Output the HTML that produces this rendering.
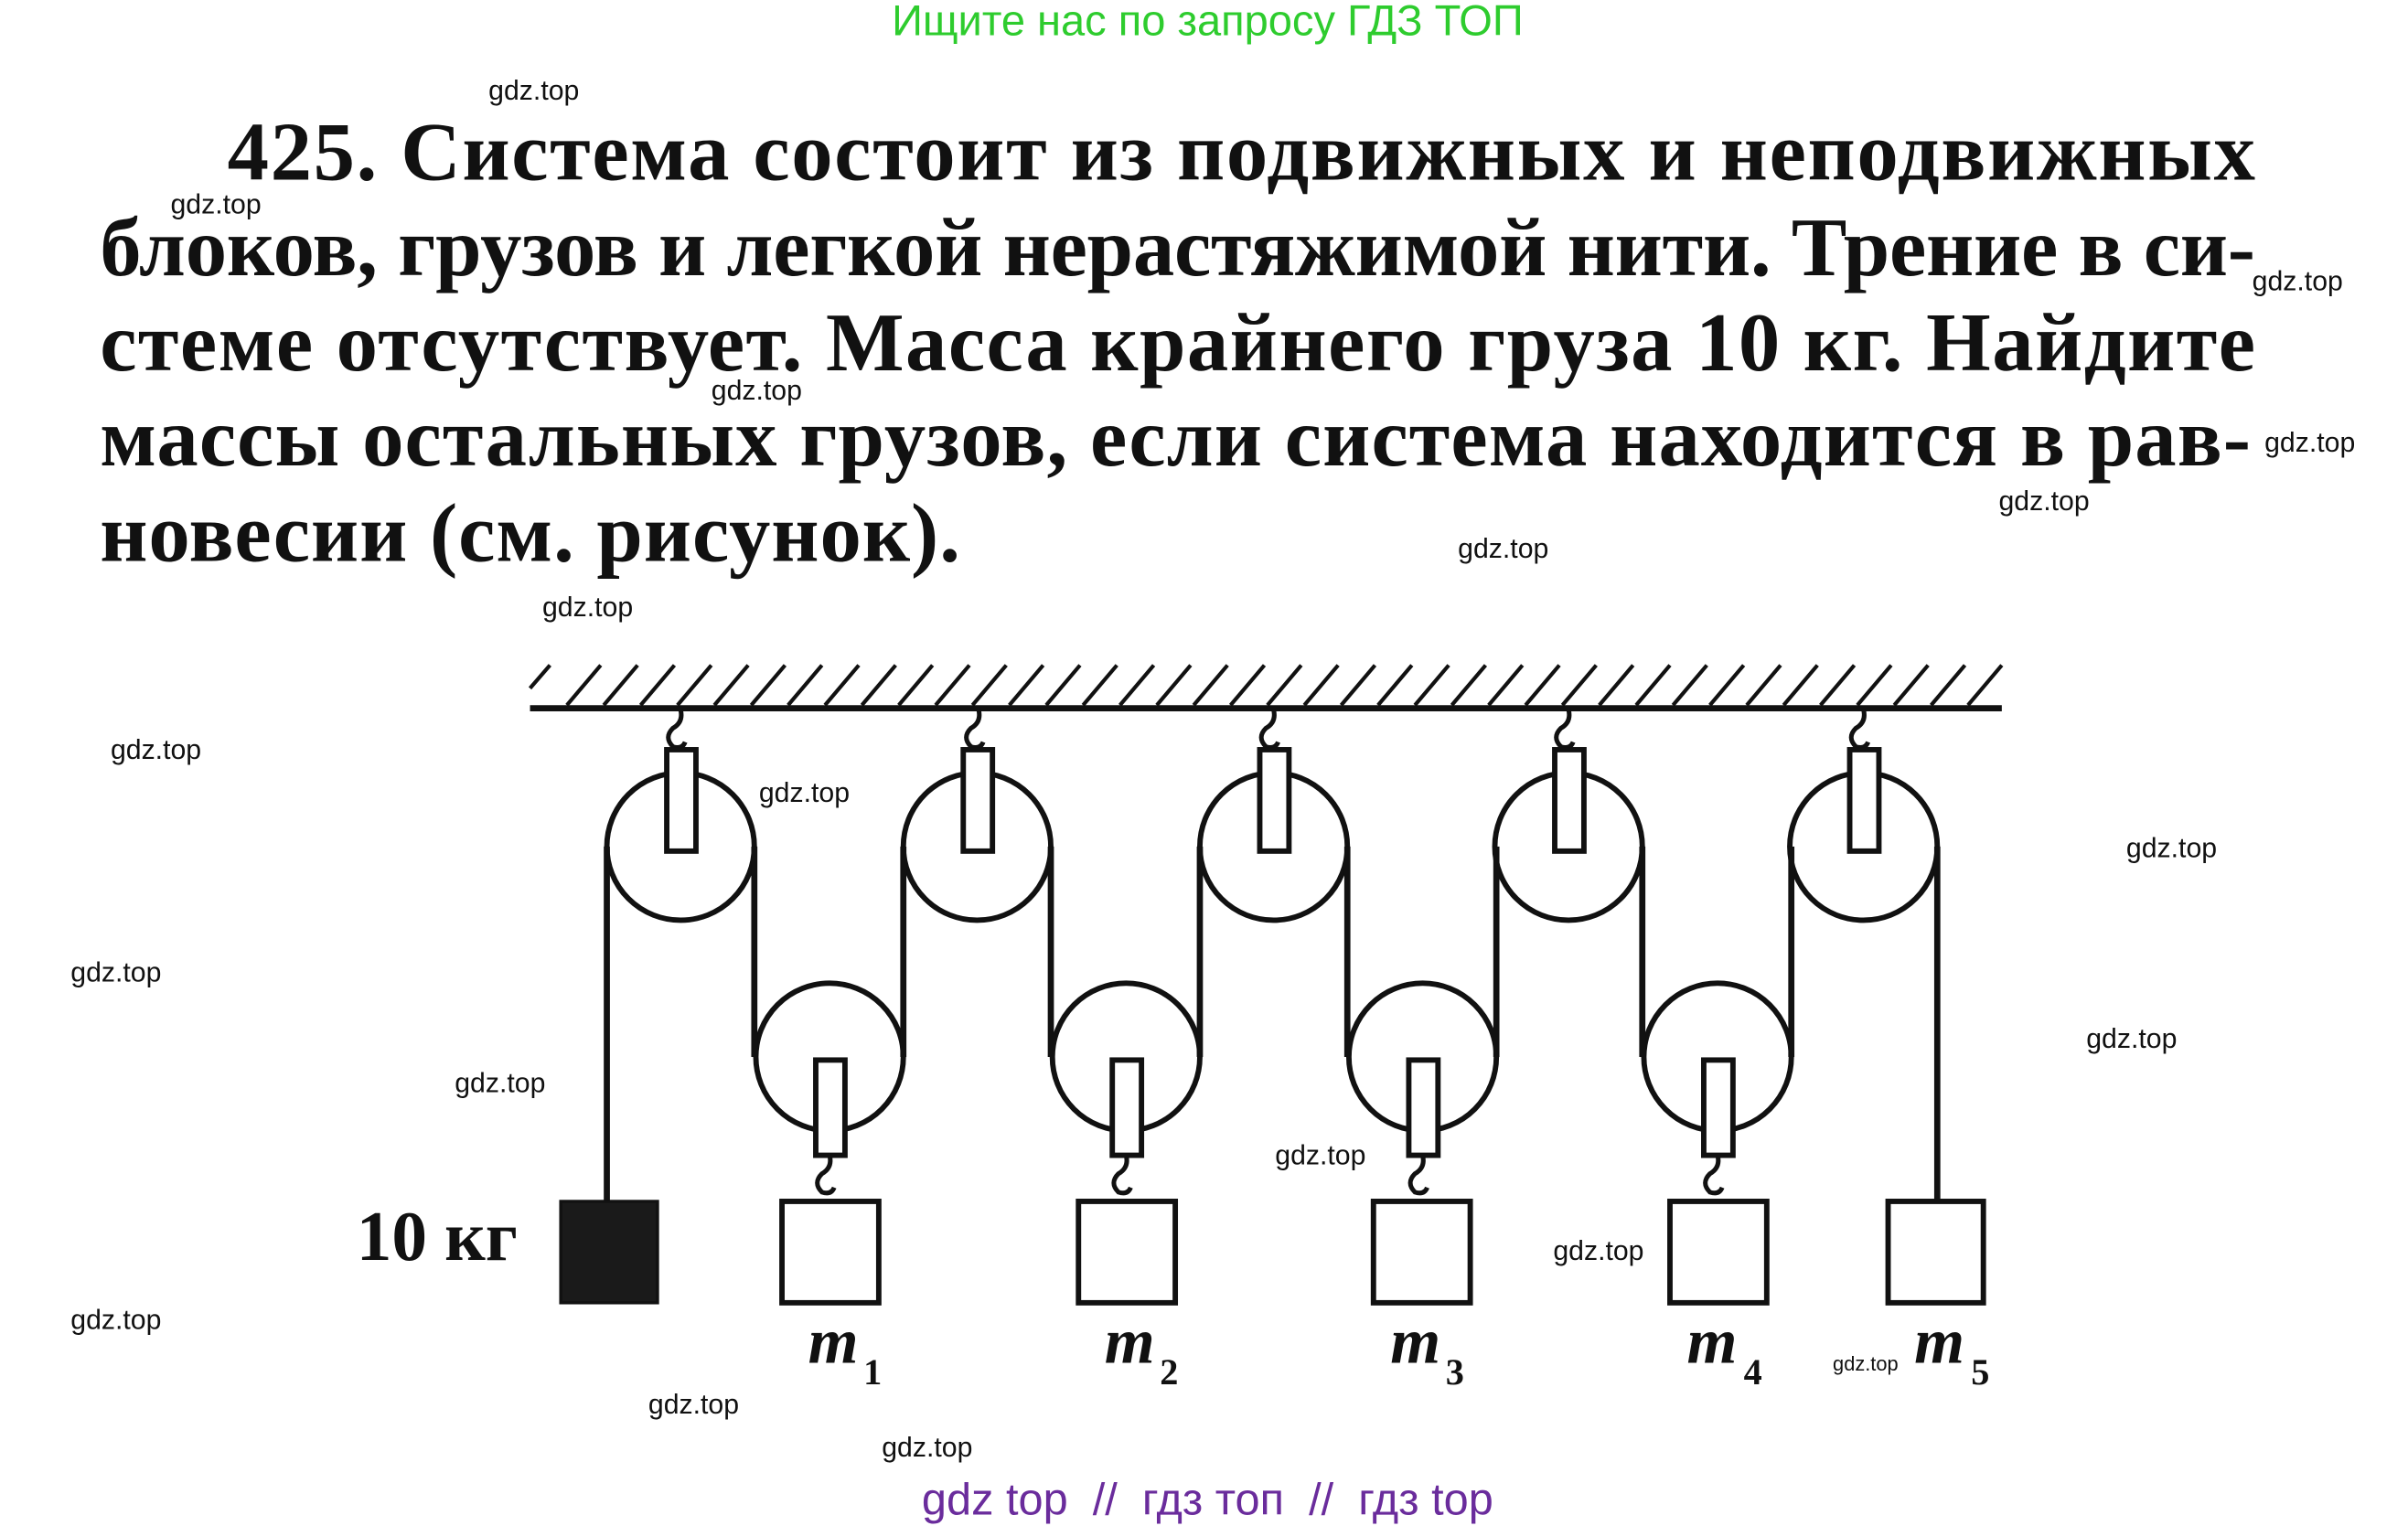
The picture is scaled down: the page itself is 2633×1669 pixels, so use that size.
<!DOCTYPE html>
<html><head><meta charset="utf-8"><style>html,body{margin:0;padding:0;background:#fff;}svg{display:block}</style></head>
<body>
<svg width="2633" height="1669" viewBox="0 0 1567.4 993.3" preserveAspectRatio="none" xmlns="http://www.w3.org/2000/svg">
<rect width="1570" height="995" fill="#fff"/>
<text x="786" y="23" font-family="Liberation Sans, sans-serif" font-size="28" fill="#2ecc2e" text-anchor="middle">Ищите нас по запросу ГДЗ ТОП</text>
<g font-family="Liberation Serif, DejaVu Serif, serif" font-weight="bold" font-size="54" fill="#111">
<text x="148" y="117" textLength="1320" lengthAdjust="spacing">425. Система состоит из подвижных и неподвижных</text>
<text x="65" y="179" textLength="1403" lengthAdjust="spacing">блоков, грузов и легкой нерастяжимой нити. Трение в си-</text>
<text x="65" y="241" textLength="1403" lengthAdjust="spacing">стеме отсутствует. Масса крайнего груза 10 кг. Найдите</text>
<text x="65" y="303" textLength="1400" lengthAdjust="spacing">массы остальных грузов, если система находится в рав-</text>
<text x="65" y="365" textLength="560" lengthAdjust="spacing">новесии (см. рисунок).</text>
</g>
<line x1="345" y1="461" x2="1303" y2="461" stroke="#111" stroke-width="4"/>
<g stroke="#111" stroke-width="2.5">
<path d="M345 448 L358 433 M369 459 L391 433 M393 459 L415 433 M417 459 L439 433 M441 459 L463 433 M465 459 L487 433 M489 459 L511 433 M513 459 L535 433 M537 459 L559 433 M561 459 L583 433 M585 459 L607 433 M609 459 L631 433 M633 459 L655 433 M657 459 L679 433 M681 459 L703 433 M705 459 L727 433 M729 459 L751 433 M753 459 L775 433 M777 459 L799 433 M801 459 L823 433 M825 459 L847 433 M849 459 L871 433 M873 459 L895 433 M897 459 L919 433 M921 459 L943 433 M945 459 L967 433 M969 459 L991 433 M993 459 L1015 433 M1017 459 L1039 433 M1041 459 L1063 433 M1065 459 L1087 433 M1089 459 L1111 433 M1113 459 L1135 433 M1137 459 L1159 433 M1161 459 L1183 433 M1185 459 L1207 433 M1209 459 L1231 433 M1233 459 L1255 433 M1257 459 L1279 433 M1281 459 L1303 433"/>
</g>
<g fill="none" stroke="#111" stroke-width="3.5">
<circle cx="443" cy="551" r="48"/><circle cx="636" cy="551" r="48"/><circle cx="829" cy="551" r="48"/><circle cx="1021" cy="551" r="48"/><circle cx="1213" cy="551" r="48"/>
<circle cx="540" cy="688" r="48"/><circle cx="733" cy="688" r="48"/><circle cx="926" cy="688" r="48"/><circle cx="1118" cy="688" r="48"/>
<path d="M395 551 V782 M491 551 V688 M588 688 V551 M684 551 V688 M781 688 V551 M877 551 V688 M974 688 V551 M1069 551 V688 M1166 688 V551 M1261 551 V782" stroke-width="4"/>
<path d="M443 462 q2 8 -5 12 q-6 6 0 12 q6 2 8 -3 M637 462 q2 8 -5 12 q-6 6 0 12 q6 2 8 -3 M829 462 q2 8 -5 12 q-6 6 0 12 q6 2 8 -3 M1021 462 q2 8 -5 12 q-6 6 0 12 q6 2 8 -3 M1213 462 q2 8 -5 12 q-6 6 0 12 q6 2 8 -3" stroke-width="3"/>
<path d="M540 752 q2 8 -5 12 q-6 6 0 12 q6 2 8 -3 M733 752 q2 8 -5 12 q-6 6 0 12 q6 2 8 -3 M926 752 q2 8 -5 12 q-6 6 0 12 q6 2 8 -3 M1118 752 q2 8 -5 12 q-6 6 0 12 q6 2 8 -3" stroke-width="3"/>
</g>
<g fill="#fff" stroke="#111" stroke-width="3.5">
<rect x="434" y="488" width="19" height="66"/><rect x="627" y="488" width="19" height="66"/><rect x="820" y="488" width="19" height="66"/><rect x="1012" y="488" width="19" height="66"/><rect x="1204" y="488" width="19" height="66"/>
<rect x="531" y="690" width="19" height="62"/><rect x="724" y="690" width="19" height="62"/><rect x="917" y="690" width="19" height="62"/><rect x="1109" y="690" width="19" height="62"/>
<rect x="509" y="782" width="63" height="66"/><rect x="702" y="782" width="63" height="66"/><rect x="894" y="782" width="63" height="66"/><rect x="1087" y="782" width="63" height="66"/><rect x="1229" y="782" width="62" height="66"/>
</g>
<rect x="365" y="782" width="63" height="66" fill="#1a1a1a" stroke="#111" stroke-width="2"/>
<g font-family="Liberation Serif, serif" font-weight="bold" fill="#111">
<text x="232" y="820" font-size="46">10 кг</text>
<g font-style="italic" font-size="42">
<text x="526" y="887">m</text><text x="719" y="887">m</text><text x="905" y="887">m</text><text x="1098" y="887">m</text><text x="1246" y="887">m</text>
</g>
<g font-size="24">
<text x="562" y="901">1</text><text x="755" y="901">2</text><text x="941" y="901">3</text><text x="1135" y="901">4</text><text x="1283" y="901">5</text>
</g>
</g>
<g font-family="Liberation Sans, sans-serif" font-size="18" fill="#111">
<text x="318" y="65">gdz.top</text><text x="111" y="139">gdz.top</text><text x="1466" y="189">gdz.top</text><text x="463" y="260">gdz.top</text><text x="1474" y="294">gdz.top</text><text x="1301" y="332">gdz.top</text><text x="949" y="363">gdz.top</text><text x="353" y="401">gdz.top</text><text x="72" y="494">gdz.top</text><text x="494" y="522">gdz.top</text><text x="1384" y="558">gdz.top</text><text x="46" y="639">gdz.top</text><text x="1358" y="682">gdz.top</text><text x="296" y="711">gdz.top</text><text x="830" y="758">gdz.top</text><text x="1011" y="820">gdz.top</text><text x="46" y="865">gdz.top</text><text x="422" y="920">gdz.top</text><text x="574" y="948">gdz.top</text>
<text x="1193" y="892" font-size="13">gdz.top</text>
</g>
<text x="786" y="986" font-family="Liberation Sans, sans-serif" font-size="29" fill="#6a2c9c" text-anchor="middle">gdz top &#160;// &#160;гдз топ &#160;// &#160;гдз top</text>
</svg>
</body></html>
